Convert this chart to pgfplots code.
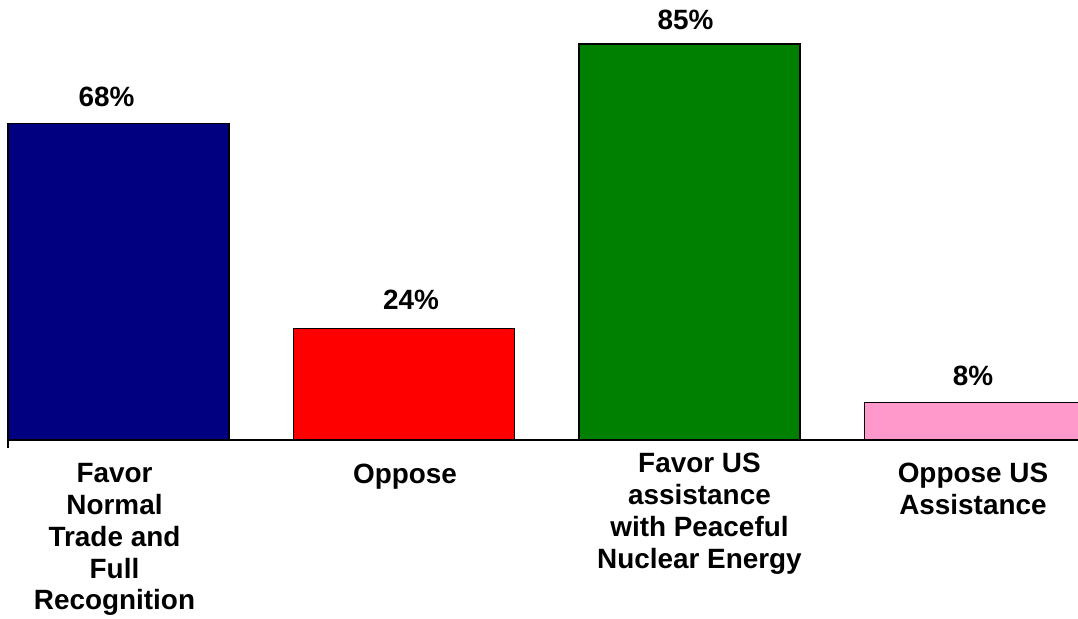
\documentclass[border=0pt]{standalone}
\usepackage{pgfplots}
\pgfplotsset{compat=1.18}
\usepackage{fontspec}
\setmainfont{Liberation Sans}
\begin{document}
\begin{tikzpicture}
  % colors
  \definecolor{navybar}{RGB}{0,0,128}
  \definecolor{redbar}{RGB}{255,0,0}
  \definecolor{greenbar}{RGB}{0,128,0}
  \definecolor{pinkbar}{RGB}{255,153,204}
  \tikzset{lbl/.style={font=\bfseries\fontsize{28}{32}\selectfont, align=center, inner sep=0pt, anchor=base}}
  \useasboundingbox (-8bp,-179bp) rectangle (1070bp,440bp);
  \begin{axis}[
      scale only axis,
      width=1070bp, height=440bp,
      at={(0,0)}, anchor=south west,
      xmin=-0.387, xmax=3.361,
      ymin=0, ymax=94.44,
      axis x line*=bottom,
      axis y line=none,
      x axis line style={-, line width=1.6pt},
      xtick=\empty, ytick=\empty,
      ybar, bar width=221bp, bar shift=0pt,
      clip=false,
    ]
    \addplot[fill=navybar, draw=black, line width=1.1pt] coordinates {(0,68)};
    \addplot[fill=redbar, draw=black, line width=1.1pt] coordinates {(1,24)};
    \addplot[fill=greenbar, draw=black, line width=1.1pt] coordinates {(2,85)};
    \addplot[fill=pinkbar, draw=black, line width=1.1pt] coordinates {(3,8)};
    % value labels
    \node[lbl, yshift=17bp, xshift=-12bp] at (axis cs:0,68) {68\%};
    \node[lbl, yshift=19bp, xshift=7bp] at (axis cs:1,24) {24\%};
    \node[lbl, yshift=14bp, xshift=-4bp] at (axis cs:2,85) {85\%};
    \node[lbl, yshift=17bp, xshift=-2bp] at (axis cs:3,8) {8\%};
    % category labels (anchored at the top of the first line)
    \node[lbl, anchor=north, yshift=-23bp, xshift=-4bp] at (axis cs:0,0) {Favor\\Normal\\Trade and\\Full\\Recognition};
    \node[lbl, anchor=north, yshift=-24bp, xshift=1bp] at (axis cs:1,0) {Oppose};
    \node[lbl, anchor=north, yshift=-13bp, xshift=10bp] at (axis cs:2,0) {Favor US\\assistance\\with Peaceful\\Nuclear Energy};
    \node[lbl, anchor=north, yshift=-23bp, xshift=-2bp] at (axis cs:3,0) {Oppose US\\Assistance};
    % stub tick at the left end of the axis
    \draw[line width=1.2pt] (axis cs:-0.387,0) -- ([yshift=-8bp]axis cs:-0.387,0);
  \end{axis}
\end{tikzpicture}
\end{document}
